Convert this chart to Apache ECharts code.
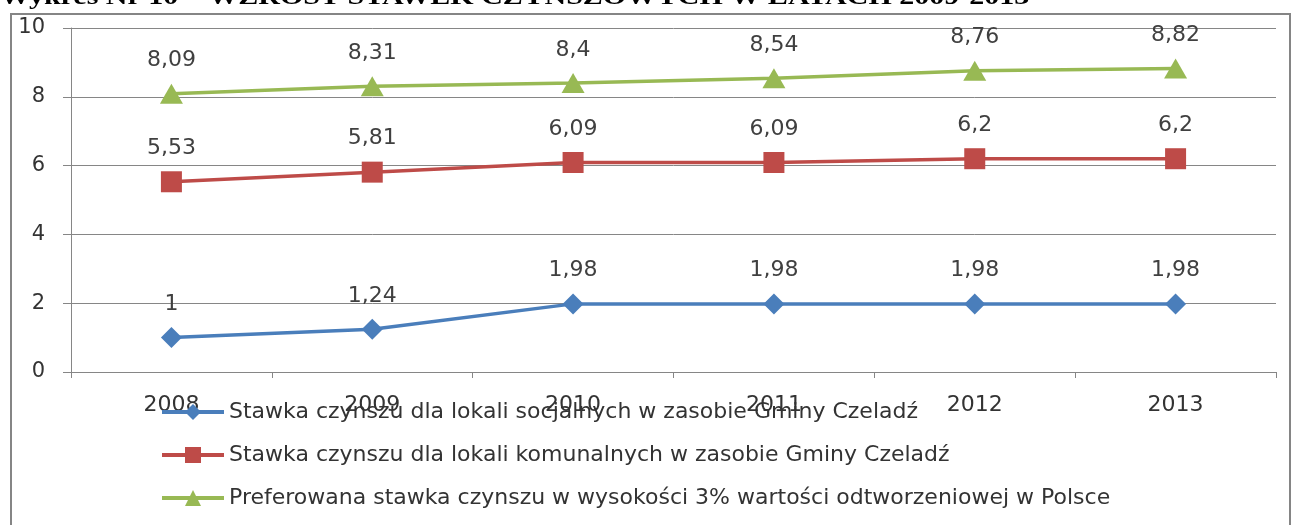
<!DOCTYPE html>
<html><head><meta charset="utf-8">
<script src="https://cdn.jsdelivr.net/npm/echarts@6/dist/echarts.min.js"></script>
<style>html,body{margin:0;padding:0;background:#fff}#c{width:1298px;height:525px}</style>
</head><body><div id="c"></div>
<script>
var titleText = 'Wykres Nr 10 – WZROST STAWEK CZYNSZOWYCH W LATACH 2009-2013';
var years = ['2008','2009','2010','2011','2012','2013'];
var yTicks = [0,2,4,6,8,10];
var seriesNames = [
  'Stawka czynszu dla lokali socjalnych w zasobie Gminy Czeladź',
  'Stawka czynszu dla lokali komunalnych w zasobie Gminy Czeladź',
  'Preferowana stawka czynszu w wysokości 3% wartości odtworzeniowej w Polsce'
];
var socjalne = [1, 1.24, 1.98, 1.98, 1.98, 1.98];
var komunalne = [5.53, 5.81, 6.09, 6.09, 6.2, 6.2];
var preferowana = [8.09, 8.31, 8.4, 8.54, 8.76, 8.82];

var font = 'DejaVu Sans';
function fmt(p){ return String(p.value).replace('.', ','); }
function mk(name, data, color, symbol, size){
  return {
    name: name, type: 'line', data: data,
    symbol: symbol, symbolSize: size,
    lineStyle: {color: color, width: 3.5},
    itemStyle: {color: color},
    label: {show: true, position: 'top', distance: 12, formatter: fmt,
      fontFamily: font, fontSize: 22, color: '#404040'}
  };
}
var chart = echarts.init(document.getElementById('c'));
chart.setOption({
  animation: false,
  backgroundColor: '#fff',
  graphic: [
    {type: 'rect', shape: {x: 11, y: 14, width: 1279, height: 530},
     style: {fill: 'none', stroke: '#858585', lineWidth: 2}, z: 0},
    {type: 'text', x: 0, y: -14, scaleX: 1.25,
     style: {text: titleText, font: 'bold 24px "Liberation Serif"', fill: '#000'}}
  ],
  grid: {left: 71, right: 22, top: 28, bottom: 153, containLabel: false},
  xAxis: {
    type: 'category', data: years, boundaryGap: true,
    axisLine: {lineStyle: {color: '#868686', width: 1}},
    axisTick: {show: true, length: 6, lineStyle: {color: '#868686'}},
    axisLabel: {margin: 22, fontFamily: font, fontSize: 22, color: '#333'}
  },
  yAxis: {
    type: 'value', min: 0, max: 10, interval: 2,
    axisLine: {show: true, lineStyle: {color: '#868686'}},
    axisTick: {show: true, length: 8, lineStyle: {color: '#868686'}},
    splitLine: {lineStyle: {color: '#868686', width: 1}},
    axisLabel: {margin: 26, fontFamily: font, fontSize: 21, color: '#333'}
  },
  legend: {
    orient: 'vertical', left: 155, top: 396, itemGap: 21,
    itemWidth: 62, itemHeight: 20,
    lineStyle: {width: 4},
    textStyle: {fontFamily: font, fontSize: 22, color: '#333'},
    data: seriesNames
  },
  series: [
    mk(seriesNames[0], socjalne, '#4A7EBB', 'diamond', 21),
    mk(seriesNames[1], komunalne, '#BE4B48', 'rect', 21),
    mk(seriesNames[2], preferowana, '#98B954', 'triangle', [23, 20])
  ]
});
</script></body></html>
